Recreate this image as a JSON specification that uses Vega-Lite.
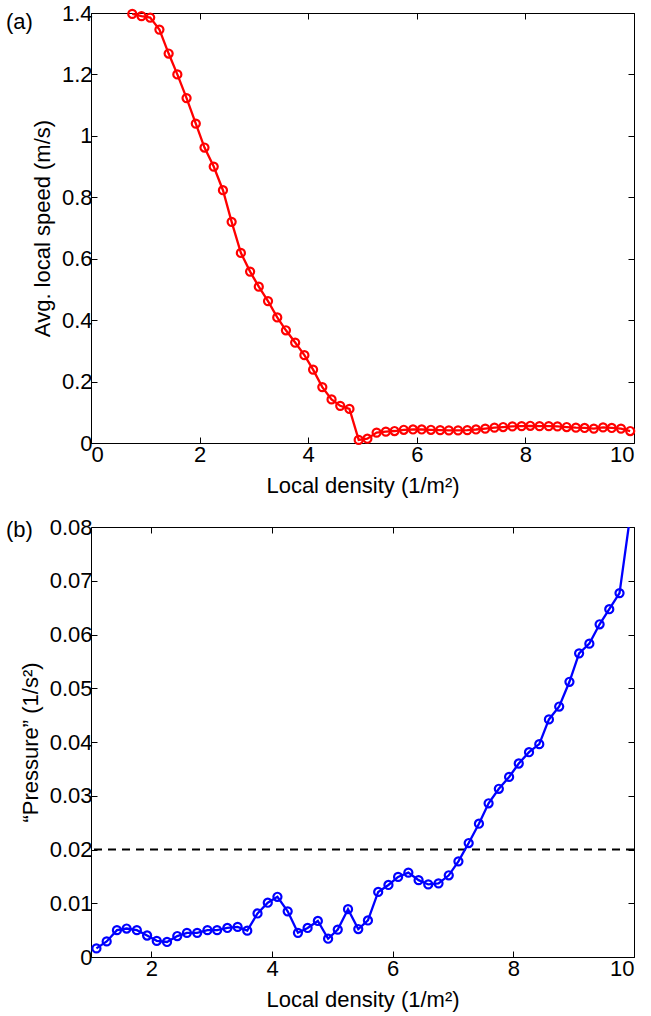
{
  "$schema": "https://vega.github.io/schema/vega-lite/v6.json",
  "background": "white",
  "padding": {"left": 5, "top": 1, "right": 5, "bottom": 2},
  "spacing": 84,
  "bounds": "flush",
  "config": {
    "font": "Liberation Sans",
    "view": {"stroke": "black", "strokeWidth": 1},
    "axis": {
      "domain": false, "grid": false,
      "tickColor": "black", "tickSize": -6, "tickWidth": 1,
      "labelFont": "Liberation Sans", "labelFontSize": 22, "labelColor": "black",
      "titleFont": "Liberation Sans", "titleFontSize": 22, "titleFontWeight": "normal", "titleColor": "black"
    },
    "axisX": {"labelPadding": 7, "titlePadding": 10},
    "axisY": {"labelPadding": 5, "titlePadding": 7},
    "title": {"font": "Liberation Sans", "fontSize": 22, "fontWeight": "normal", "color": "black"}
  },
  "vconcat": [
    {
      "width": 543, "height": 430,
      "title": {"text": "(a)", "anchor": "start", "frame": "group", "dx": -85, "dy": 32, "offset": 0},
      "data": {"values": [
        {"density": 0.76, "speed": 1.397}, {"density": 0.93, "speed": 1.390}, {"density": 1.09, "speed": 1.385},
        {"density": 1.26, "speed": 1.346}, {"density": 1.43, "speed": 1.268}, {"density": 1.59, "speed": 1.200},
        {"density": 1.76, "speed": 1.123}, {"density": 1.93, "speed": 1.040}, {"density": 2.09, "speed": 0.962},
        {"density": 2.26, "speed": 0.900}, {"density": 2.43, "speed": 0.823}, {"density": 2.59, "speed": 0.720},
        {"density": 2.76, "speed": 0.619}, {"density": 2.93, "speed": 0.558}, {"density": 3.09, "speed": 0.509},
        {"density": 3.26, "speed": 0.462}, {"density": 3.43, "speed": 0.409}, {"density": 3.59, "speed": 0.367},
        {"density": 3.76, "speed": 0.327}, {"density": 3.93, "speed": 0.286}, {"density": 4.09, "speed": 0.239},
        {"density": 4.26, "speed": 0.182}, {"density": 4.43, "speed": 0.142}, {"density": 4.59, "speed": 0.121},
        {"density": 4.76, "speed": 0.111}, {"density": 4.93, "speed": 0.010}, {"density": 5.09, "speed": 0.014},
        {"density": 5.26, "speed": 0.034}, {"density": 5.43, "speed": 0.037}, {"density": 5.59, "speed": 0.039},
        {"density": 5.76, "speed": 0.043}, {"density": 5.93, "speed": 0.044}, {"density": 6.09, "speed": 0.044},
        {"density": 6.26, "speed": 0.043}, {"density": 6.43, "speed": 0.042}, {"density": 6.59, "speed": 0.041},
        {"density": 6.76, "speed": 0.041}, {"density": 6.93, "speed": 0.042}, {"density": 7.09, "speed": 0.044},
        {"density": 7.26, "speed": 0.047}, {"density": 7.43, "speed": 0.050}, {"density": 7.59, "speed": 0.052},
        {"density": 7.76, "speed": 0.054}, {"density": 7.93, "speed": 0.055}, {"density": 8.09, "speed": 0.056},
        {"density": 8.26, "speed": 0.055}, {"density": 8.43, "speed": 0.055}, {"density": 8.59, "speed": 0.054},
        {"density": 8.76, "speed": 0.052}, {"density": 8.93, "speed": 0.050}, {"density": 9.09, "speed": 0.049},
        {"density": 9.26, "speed": 0.047}, {"density": 9.43, "speed": 0.051}, {"density": 9.59, "speed": 0.049},
        {"density": 9.76, "speed": 0.047}, {"density": 9.93, "speed": 0.039}
      ]},
      "layer": [
        {
          "mark": {"type": "line", "color": "#ff0000", "strokeWidth": 2.3, "clip": true},
          "encoding": {
            "x": {"field": "density", "type": "quantitative", "scale": {"domain": [0, 10], "nice": false, "zero": false},
                  "axis": {"orient": "bottom", "values": [0, 2, 4, 6, 8, 10], "format": "~r", "title": "Local density (1/m²)"}},
            "y": {"field": "speed", "type": "quantitative", "scale": {"domain": [0, 1.4], "nice": false},
                  "axis": {"orient": "left", "values": [0, 0.2, 0.4, 0.6, 0.8, 1, 1.2, 1.4], "format": "~r", "title": "Avg. local speed (m/s)"}}
          }
        },
        {
          "mark": {"type": "point", "shape": "circle", "filled": false, "color": "#ff0000", "size": 65, "strokeWidth": 2.2, "opacity": 1},
          "encoding": {
            "x": {"field": "density", "type": "quantitative",
                  "axis": {"orient": "top", "values": [0, 2, 4, 6, 8, 10], "labels": false, "title": null}},
            "y": {"field": "speed", "type": "quantitative",
                  "axis": {"orient": "right", "values": [0, 0.2, 0.4, 0.6, 0.8, 1, 1.2, 1.4], "labels": false, "title": null}}
          }
        }
      ],
      "resolve": {"axis": {"x": "independent", "y": "independent"}}
    },
    {
      "width": 543, "height": 430,
      "title": {"text": "(b)", "anchor": "start", "frame": "group", "dx": -85, "dy": 26, "offset": 0},
      "layer": [
        {
          "data": {"values": [{"level": 0.02}]},
          "mark": {"type": "rule", "color": "black", "strokeDash": [8, 6], "strokeWidth": 2.2},
          "encoding": {
            "y": {"field": "level", "type": "quantitative", "axis": null}
          }
        },
        {
          "data": {"name": "pressure"},
          "mark": {"type": "line", "color": "#0000ff", "strokeWidth": 2.3, "clip": true},
          "encoding": {
            "x": {"field": "density", "type": "quantitative", "scale": {"domain": [1, 10], "nice": false, "zero": false},
                  "axis": {"orient": "bottom", "values": [2, 4, 6, 8, 10], "format": "~r", "title": "Local density (1/m²)"}},
            "y": {"field": "pressure", "type": "quantitative", "scale": {"domain": [0, 0.08], "nice": false},
                  "axis": {"orient": "left", "values": [0, 0.01, 0.02, 0.03, 0.04, 0.05, 0.06, 0.07, 0.08], "format": "~r", "title": "“Pressure” (1/s²)"}}
          }
        },
        {
          "data": {"name": "pressure"},
          "mark": {"type": "point", "shape": "circle", "filled": false, "color": "#0000ff", "size": 65, "strokeWidth": 2.2, "opacity": 1, "clip": true},
          "encoding": {
            "x": {"field": "density", "type": "quantitative",
                  "axis": {"orient": "top", "values": [2, 4, 6, 8, 10], "labels": false, "title": null}},
            "y": {"field": "pressure", "type": "quantitative",
                  "axis": {"orient": "right", "values": [0, 0.01, 0.02, 0.03, 0.04, 0.05, 0.06, 0.07, 0.08], "labels": false, "title": null}}
          }
        }
      ],
      "resolve": {"axis": {"x": "independent", "y": "independent"}}
    }
  ],
  "datasets": {
    "pressure": [
      {"density": 1.09, "pressure": 0.0016}, {"density": 1.26, "pressure": 0.0029}, {"density": 1.43, "pressure": 0.0050},
      {"density": 1.59, "pressure": 0.0053}, {"density": 1.76, "pressure": 0.0050}, {"density": 1.93, "pressure": 0.0040},
      {"density": 2.09, "pressure": 0.0030}, {"density": 2.26, "pressure": 0.0028}, {"density": 2.43, "pressure": 0.0039},
      {"density": 2.59, "pressure": 0.0045}, {"density": 2.76, "pressure": 0.0045}, {"density": 2.93, "pressure": 0.0050},
      {"density": 3.09, "pressure": 0.0050}, {"density": 3.26, "pressure": 0.0054}, {"density": 3.43, "pressure": 0.0056},
      {"density": 3.59, "pressure": 0.0049}, {"density": 3.76, "pressure": 0.0081}, {"density": 3.93, "pressure": 0.0101},
      {"density": 4.09, "pressure": 0.0112}, {"density": 4.26, "pressure": 0.0085}, {"density": 4.43, "pressure": 0.0045},
      {"density": 4.59, "pressure": 0.0054}, {"density": 4.76, "pressure": 0.0067}, {"density": 4.93, "pressure": 0.0034},
      {"density": 5.09, "pressure": 0.0051}, {"density": 5.26, "pressure": 0.0089}, {"density": 5.43, "pressure": 0.0052},
      {"density": 5.59, "pressure": 0.0068}, {"density": 5.76, "pressure": 0.0121}, {"density": 5.93, "pressure": 0.0134},
      {"density": 6.09, "pressure": 0.0149}, {"density": 6.26, "pressure": 0.0157}, {"density": 6.43, "pressure": 0.0143},
      {"density": 6.59, "pressure": 0.0135}, {"density": 6.76, "pressure": 0.0137}, {"density": 6.93, "pressure": 0.0152},
      {"density": 7.09, "pressure": 0.0178}, {"density": 7.26, "pressure": 0.0212}, {"density": 7.43, "pressure": 0.0248},
      {"density": 7.59, "pressure": 0.0286}, {"density": 7.76, "pressure": 0.0313}, {"density": 7.93, "pressure": 0.0335},
      {"density": 8.09, "pressure": 0.0360}, {"density": 8.26, "pressure": 0.0381}, {"density": 8.43, "pressure": 0.0396},
      {"density": 8.59, "pressure": 0.0442}, {"density": 8.76, "pressure": 0.0466}, {"density": 8.93, "pressure": 0.0512},
      {"density": 9.09, "pressure": 0.0565}, {"density": 9.26, "pressure": 0.0583}, {"density": 9.43, "pressure": 0.0619},
      {"density": 9.59, "pressure": 0.0647}, {"density": 9.76, "pressure": 0.0677}, {"density": 9.93, "pressure": 0.0815}
    ]
  }
}
